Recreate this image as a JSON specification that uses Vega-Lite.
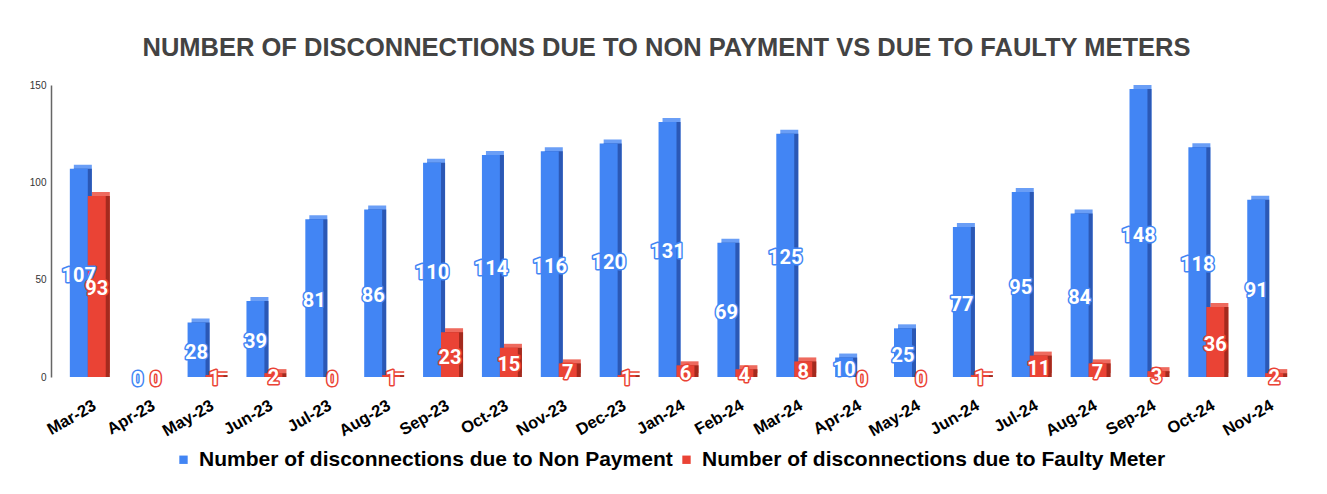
{
  "$schema": "https://vega.github.io/schema/vega-lite/v6.json",
  "width": 1251,
  "height": 292,
  "autosize": {"type": "none"},
  "padding": {"left": 51, "top": 85, "right": 25, "bottom": 117},
  "background": "white",
  "title": {
    "text": "NUMBER OF DISCONNECTIONS DUE TO NON PAYMENT VS DUE TO FAULTY METERS",
    "font": "Liberation Sans",
    "fontSize": 25.5,
    "fontWeight": "bold",
    "color": "#434343",
    "anchor": "middle",
    "frame": "group",
    "dx": -10,
    "offset": 19
  },
  "config": {
    "view": {"stroke": null},
    "axis": {"labelFont": "Liberation Sans"}
  },
  "data": {
    "values": [
      {"month": "Mar-23", "series": "Number of disconnections due to Non Payment", "value": 107},
      {"month": "Apr-23", "series": "Number of disconnections due to Non Payment", "value": 0},
      {"month": "May-23", "series": "Number of disconnections due to Non Payment", "value": 28},
      {"month": "Jun-23", "series": "Number of disconnections due to Non Payment", "value": 39},
      {"month": "Jul-23", "series": "Number of disconnections due to Non Payment", "value": 81},
      {"month": "Aug-23", "series": "Number of disconnections due to Non Payment", "value": 86},
      {"month": "Sep-23", "series": "Number of disconnections due to Non Payment", "value": 110},
      {"month": "Oct-23", "series": "Number of disconnections due to Non Payment", "value": 114},
      {"month": "Nov-23", "series": "Number of disconnections due to Non Payment", "value": 116},
      {"month": "Dec-23", "series": "Number of disconnections due to Non Payment", "value": 120},
      {"month": "Jan-24", "series": "Number of disconnections due to Non Payment", "value": 131},
      {"month": "Feb-24", "series": "Number of disconnections due to Non Payment", "value": 69},
      {"month": "Mar-24", "series": "Number of disconnections due to Non Payment", "value": 125},
      {"month": "Apr-24", "series": "Number of disconnections due to Non Payment", "value": 10},
      {"month": "May-24", "series": "Number of disconnections due to Non Payment", "value": 25},
      {"month": "Jun-24", "series": "Number of disconnections due to Non Payment", "value": 77},
      {"month": "Jul-24", "series": "Number of disconnections due to Non Payment", "value": 95},
      {"month": "Aug-24", "series": "Number of disconnections due to Non Payment", "value": 84},
      {"month": "Sep-24", "series": "Number of disconnections due to Non Payment", "value": 148},
      {"month": "Oct-24", "series": "Number of disconnections due to Non Payment", "value": 118},
      {"month": "Nov-24", "series": "Number of disconnections due to Non Payment", "value": 91},
      {"month": "Mar-23", "series": "Number of disconnections due to Faulty Meter", "value": 93},
      {"month": "Apr-23", "series": "Number of disconnections due to Faulty Meter", "value": 0},
      {"month": "May-23", "series": "Number of disconnections due to Faulty Meter", "value": 1},
      {"month": "Jun-23", "series": "Number of disconnections due to Faulty Meter", "value": 2},
      {"month": "Jul-23", "series": "Number of disconnections due to Faulty Meter", "value": 0},
      {"month": "Aug-23", "series": "Number of disconnections due to Faulty Meter", "value": 1},
      {"month": "Sep-23", "series": "Number of disconnections due to Faulty Meter", "value": 23},
      {"month": "Oct-23", "series": "Number of disconnections due to Faulty Meter", "value": 15},
      {"month": "Nov-23", "series": "Number of disconnections due to Faulty Meter", "value": 7},
      {"month": "Dec-23", "series": "Number of disconnections due to Faulty Meter", "value": 1},
      {"month": "Jan-24", "series": "Number of disconnections due to Faulty Meter", "value": 6},
      {"month": "Feb-24", "series": "Number of disconnections due to Faulty Meter", "value": 4},
      {"month": "Mar-24", "series": "Number of disconnections due to Faulty Meter", "value": 8},
      {"month": "Apr-24", "series": "Number of disconnections due to Faulty Meter", "value": 0},
      {"month": "May-24", "series": "Number of disconnections due to Faulty Meter", "value": 0},
      {"month": "Jun-24", "series": "Number of disconnections due to Faulty Meter", "value": 1},
      {"month": "Jul-24", "series": "Number of disconnections due to Faulty Meter", "value": 11},
      {"month": "Aug-24", "series": "Number of disconnections due to Faulty Meter", "value": 7},
      {"month": "Sep-24", "series": "Number of disconnections due to Faulty Meter", "value": 3},
      {"month": "Oct-24", "series": "Number of disconnections due to Faulty Meter", "value": 36},
      {"month": "Nov-24", "series": "Number of disconnections due to Faulty Meter", "value": 2}
    ]
  },
  "encoding": {
    "x": {
      "field": "month",
      "type": "nominal",
      "sort": null,
      "scale": {"paddingInner": 0.39, "paddingOuter": 0.32},
      "axis": {
        "title": null,
        "labelAngle": -30,
        "labelAlign": "right",
        "labelBaseline": "top",
        "labelFont": "Liberation Sans",
        "labelFontSize": 16.5,
        "labelFontWeight": "bold",
        "labelColor": "#000000",
        "labelPadding": 20,
        "labelOffset": 3,
        "ticks": false,
        "domain": false,
        "grid": false
      }
    }
  },
  "layer": [
    {
      "mark": {"type": "bar"},
      "encoding": {
        "xOffset": {"field": "series", "type": "nominal", "sort": null, "scale": {"range": [4, 40]}},
        "y": {"field": "value", "type": "quantitative", "scale": {"domain": [0, 150], "range": [288, -4], "nice": false}, "axis": null},
        "color": {
          "field": "series", "type": "nominal", "sort": null,
          "scale": {"range": ["#6A9EF6", "#EE6A5E"]},
          "legend": null
        }
      }
    },
    {
      "mark": {"type": "bar"},
      "encoding": {
        "xOffset": {"field": "series", "type": "nominal", "sort": null, "scale": {"range": [4, 40]}},
        "y": {"field": "value", "type": "quantitative", "scale": {"domain": [0, 150], "range": [292, 0], "nice": false}, "axis": null},
        "color": {
          "field": "series", "type": "nominal", "sort": null,
          "scale": {"range": ["#2B58B5", "#A42A1E"]},
          "legend": null
        }
      }
    },
    {
      "mark": {"type": "bar"},
      "encoding": {
        "xOffset": {"field": "series", "type": "nominal", "sort": null},
        "y": {
          "field": "value", "type": "quantitative",
          "scale": {"domain": [0, 150], "nice": false},
          "axis": {
            "title": null,
            "values": [0, 50, 100, 150],
            "labelFont": "Liberation Sans",
            "labelFontSize": 10,
            "labelColor": "#333333",
            "labelPadding": 5,
            "ticks": false,
            "domainColor": "#666666",
            "domainWidth": 1.5,
            "gridColor": {"condition": {"test": "datum.value === 0", "value": "#444444"}, "value": "#d0d0d0"},
            "gridWidth": 1
          }
        },
        "color": {
          "field": "series", "type": "nominal", "sort": null,
          "scale": {"range": ["#4285F4", "#EA4335"]},
          "legend": {
            "title": null,
            "orient": "none",
            "legendX": 122,
            "legendY": 364,
            "direction": "horizontal",
            "symbolType": "square",
            "symbolSize": 70,
            "symbolStrokeWidth": 0,
            "labelFont": "Liberation Sans",
            "labelFontSize": 21,
            "labelFontWeight": "bold",
            "labelColor": "#000000",
            "labelLimit": 800,
            "columnPadding": 3,
            "labelOffset": 5
          }
        }
      }
    },
    {
      "mark": {"type": "text", "font": "Roboto", "fontSize": 20, "fontWeight": "bold", "baseline": "middle", "align": "center", "strokeWidth": 3, "strokeJoin": "round", "dy": 3},
      "encoding": {
        "xOffset": {"field": "series", "type": "nominal", "sort": null},
        "y": {"field": "value", "type": "quantitative", "scale": {"domain": [0, 300], "nice": false}, "axis": null},
        "text": {"field": "value", "type": "quantitative"},
        "color": {"field": "series", "type": "nominal", "sort": null, "scale": {"range": ["#4285F4", "#EA4335"]}, "legend": null},
        "stroke": {"field": "series", "type": "nominal", "sort": null, "scale": {"range": ["#4285F4", "#EA4335"]}, "legend": null}
      }
    },
    {
      "mark": {"type": "text", "font": "Roboto", "fontSize": 20, "fontWeight": "bold", "baseline": "middle", "align": "center", "color": "#ffffff", "dy": 3},
      "encoding": {
        "xOffset": {"field": "series", "type": "nominal", "sort": null},
        "y": {"field": "value", "type": "quantitative", "scale": {"domain": [0, 300], "nice": false}, "axis": null},
        "text": {"field": "value", "type": "quantitative"}
      }
    }
  ],
  "resolve": {"scale": {"y": "independent", "xOffset": "independent", "color": "independent", "stroke": "independent"}}
}
